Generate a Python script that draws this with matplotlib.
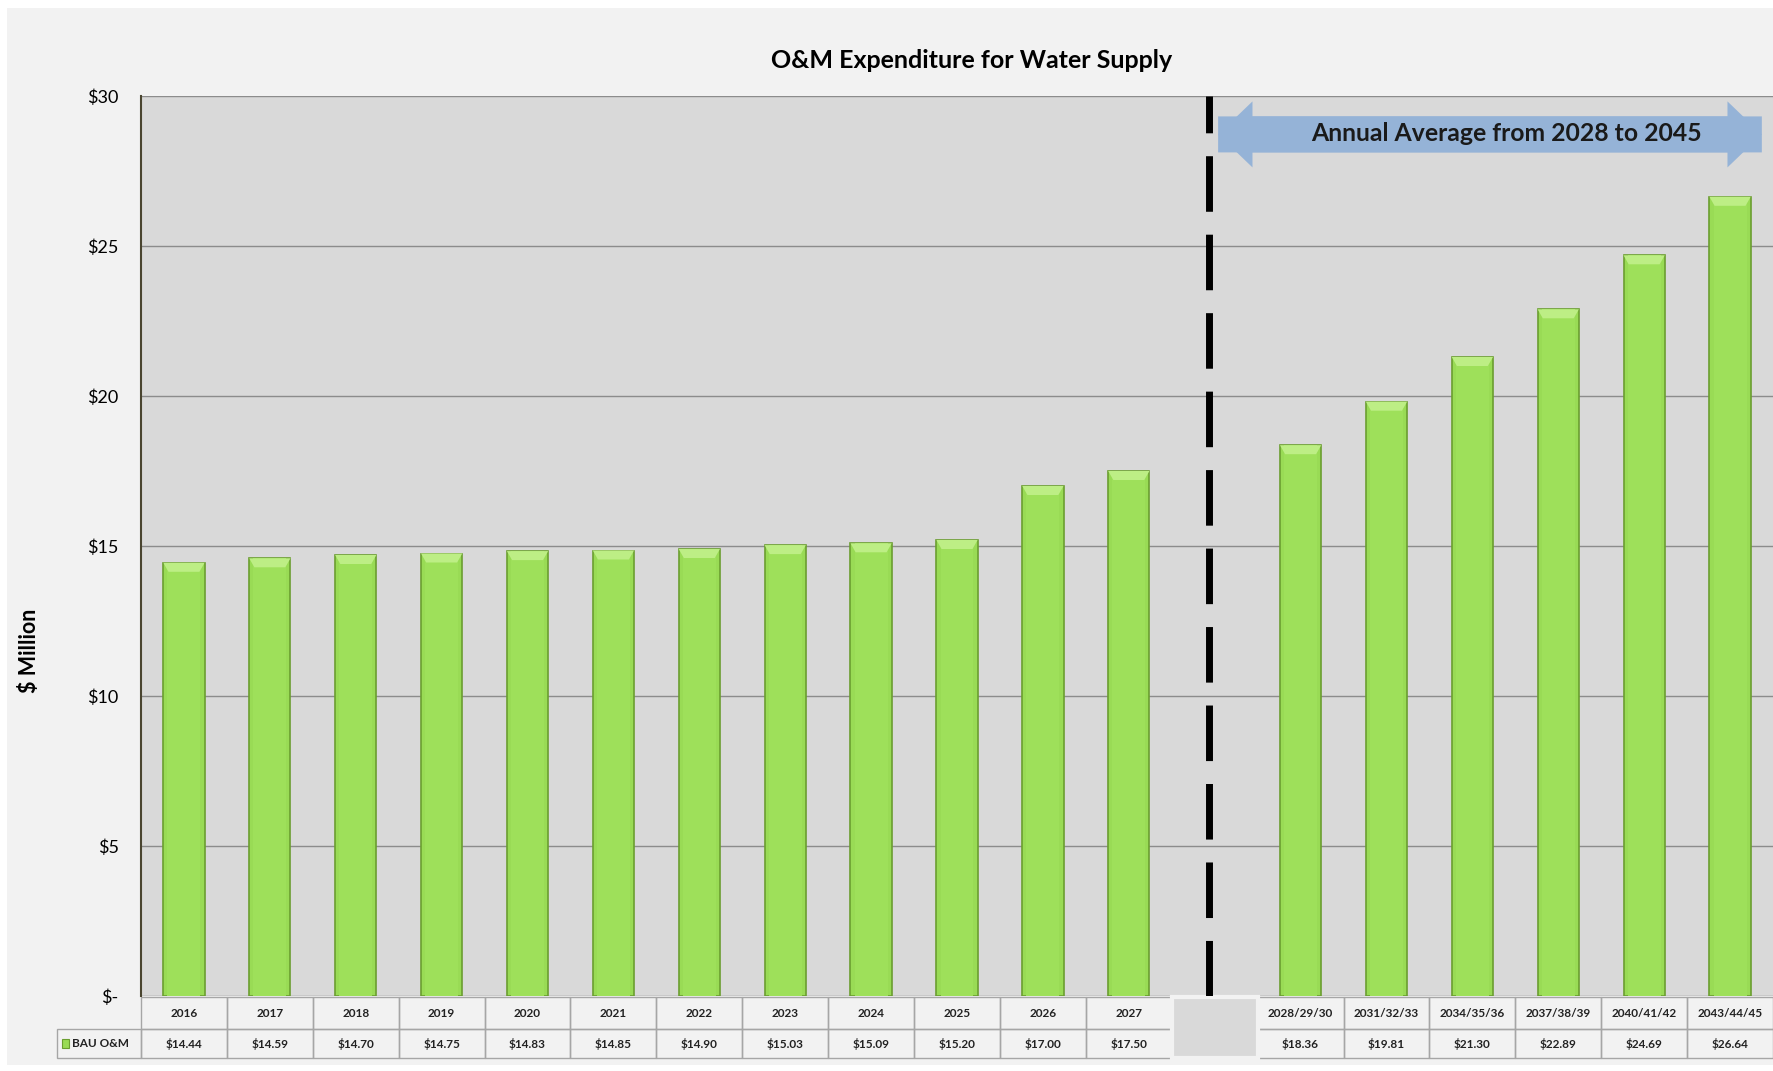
import numpy as np
import matplotlib.pyplot as plt
from matplotlib.patches import FancyArrow, Rectangle, Polygon
import matplotlib.transforms as mtransforms

plt.rcParams['font.family'] = ['Lato', 'DejaVu Sans']

# data
years = ['2016', '2017', '2018', '2019', '2020', '2021', '2022', '2023', '2024',
         '2025', '2026', '2027']
year_vals = [14.44, 14.59, 14.70, 14.75, 14.83, 14.85, 14.90, 15.03, 15.09,
             15.20, 17.00, 17.50]
groups = ['2028/29/30', '2031/32/33', '2034/35/36', '2037/38/39', '2040/41/42', '2043/44/45']
group_vals = [18.36, 19.81, 21.30, 22.89, 24.69, 26.64]
series_name = 'BAU O&M'

labels = years + [''] + groups
values = year_vals + [np.nan] + group_vals
x = np.arange(len(labels))

fig = plt.figure(figsize=(17.73, 10.71), dpi=100)
fig.patch.set_facecolor('white')
# light grey chart area
fig.patches.append(Rectangle((7 / 1773, 1 - 1065 / 1071), 1766 / 1773, 1057 / 1071,
                             transform=fig.transFigure, facecolor='#f2f2f2',
                             edgecolor='none', zorder=-10))

ax = fig.add_axes([141 / 1773, 1 - 996 / 1071, 1632 / 1773, 900 / 1071])
ax.set_facecolor('#d9d9d9')
ax.set_xlim(-0.5, len(labels) - 0.5)
ax.set_ylim(0, 30)

ax.set_yticks([0, 5, 10, 15, 20, 25, 30])
ax.set_yticklabels(['$-', '$5', '$10', '$15', '$20', '$25', '$30'], fontsize=13)
ax.tick_params(axis='y', length=0, pad=16)
ax.set_xticks([])
ax.yaxis.grid(True, color='#8c8c8c', linewidth=1)
ax.set_axisbelow(True)
for s in ['top', 'right', 'bottom']:
    ax.spines[s].set_visible(False)
ax.spines['left'].set_color('#4a4530')
ax.spines['left'].set_linewidth(1.5)

# bars with a simple bevel look
bw = 0.48
vals = np.array(values, dtype=float)
ax.bar(x, vals, width=bw, color='#99db55', edgecolor='#6b9e30', linewidth=1.2, zorder=3)
ax.bar(x, vals, width=bw * 0.8, color='#9ee05a', edgecolor='none', zorder=3)
for xi, v in zip(x, vals):
    if np.isnan(v):
        continue
    ax.add_patch(Polygon([(xi - bw / 2, v), (xi + bw / 2, v), (xi + bw / 2 - 0.06, v - 0.3),
                          (xi - bw / 2 + 0.06, v - 0.3)], closed=True,
                         facecolor='#bdee85', edgecolor='none', zorder=4))

# dashed separator
ax.axvline(11.93, color='black', linewidth=5, dashes=(8, 3.3), zorder=5)

# arrow
ax.add_patch(FancyArrow(12.04, 28.72, 6.33, 0, width=1.2, head_width=2.2,
                        head_length=0.4, length_includes_head=True,
                        facecolor='#95b3d7', edgecolor='none', zorder=6))
ax.add_patch(FancyArrow(18.37, 28.72, -6.33, 0, width=1.2, head_width=2.2,
                        head_length=0.4, length_includes_head=True,
                        facecolor='#95b3d7', edgecolor='none', zorder=6))
ax.text(15.4, 28.75, 'Annual Average from 2028 to 2045', ha='center', va='center',
        fontsize=17.8, fontweight='bold', color='#1a1a1a', zorder=7)

ax.set_title('O&M Expenditure for Water Supply', fontsize=18, fontweight='bold',
             pad=20, x=0.509)
ax.set_ylabel('$ Million', fontsize=15.5, fontweight='bold')
ax.yaxis.set_label_coords(-0.062, 0.384)

# data table below the axis
trans = mtransforms.blended_transform_factory(ax.transData, ax.transAxes)
r1_top, r1_bot, r2_bot = -0.001, -0.037, -0.069
line_c = '#a6a6a6'
for i, (lab, v) in enumerate(zip(labels, values)):
    if lab == '':
        ax.add_patch(Rectangle((i - 0.5, r2_bot), 1, r1_top - r2_bot, transform=trans,
                               facecolor='#d9d9d9', edgecolor='#f2f2f2', linewidth=3,
                               clip_on=False, zorder=2))
        continue
    ax.add_patch(Rectangle((i - 0.5, r1_bot), 1, r1_top - r1_bot, transform=trans,
                           facecolor='none', edgecolor=line_c, linewidth=1, clip_on=False))
    ax.add_patch(Rectangle((i - 0.5, r2_bot), 1, r1_bot - r2_bot, transform=trans,
                           facecolor='none', edgecolor=line_c, linewidth=1, clip_on=False))
    ax.text(i, (r1_top + r1_bot) / 2, lab, transform=trans, ha='center', va='center',
            fontsize=8.5, fontweight='bold', color='#222222')
    ax.text(i, (r1_bot + r2_bot) / 2, '${:.2f}'.format(v), transform=trans, ha='center',
            va='center', fontsize=8.5, fontweight='bold', color='#222222')

# legend cell
ax.add_patch(Rectangle((-1.48, r2_bot), 0.98, r1_bot - r2_bot, transform=trans,
                       facecolor='none', edgecolor=line_c, linewidth=1, clip_on=False))
ax.add_patch(Rectangle((-1.42, (r1_bot + r2_bot) / 2 - 0.005), 0.08, 0.01, transform=trans,
                       facecolor='#99db55', edgecolor='#6b9e30', linewidth=0.8,
                       clip_on=False))
ax.text(-1.30, (r1_bot + r2_bot) / 2, series_name, transform=trans, ha='left',
        va='center', fontsize=8.5, fontweight='bold', color='#222222')

fig.savefig('out.png', dpi=100, facecolor=fig.get_facecolor())
